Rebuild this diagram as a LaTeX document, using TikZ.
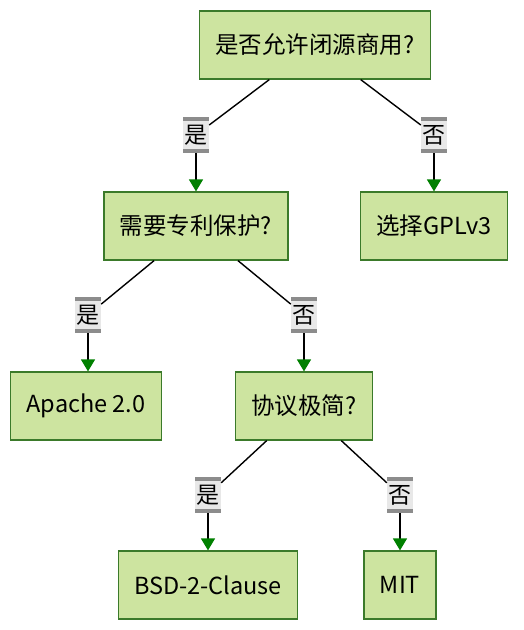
\documentclass[tikz,border=0pt]{standalone}
\usepackage{fontspec}
\setmainfont{Noto Sans CJK SC}
\usepackage{tikz}
\usetikzlibrary{arrows.meta}
\definecolor{leaf}{HTML}{CDE4A0}
\definecolor{leafedge}{HTML}{3B7A2A}
\definecolor{tagbg}{HTML}{E8E8E8}
\definecolor{tagbar}{HTML}{8C8C8C}
\definecolor{tipgreen}{HTML}{008000}

\tikzset{
  choice/.style={draw=leafedge, fill=leaf, line width=1.2pt, minimum height=68pt,
                 inner xsep=16pt, font=\fontsize{23.5}{26}\selectfont},
  tag/.style={fill=tagbg, minimum width=26pt, minimum height=36pt, inner sep=0pt,
              font=\fontsize{23}{26}\selectfont,
              path picture={
                \fill[tagbar] (path picture bounding box.north west)
                  rectangle ([yshift=-4pt]path picture bounding box.north east);
                \fill[tagbar] (path picture bounding box.south west)
                  rectangle ([yshift=4pt]path picture bounding box.south east);}},
  link/.style={draw=black, line width=1.4pt},
  pick/.style={link, -{Triangle[color=tipgreen, width=14pt, length=12pt]}}
}

\begin{document}
\begin{tikzpicture}[x=1pt, y=-1pt]
  \useasboundingbox (0,0) rectangle (524,630);

  % questions and answers
  \node[choice] (closed)  at (315,45)  {是否允许闭源商用?};
  \node[choice] (gpl)     at (434,226) {选择GPLv3};
  \node[choice] (patent)  at (196,226) {需要专利保护?};
  \node[choice] (apache)  at (86,406)  {Apache 2.0};
  \node[choice] (simple)  at (304,406) {协议极简?};
  \node[choice] (bsd)     at (208,585) {BSD-2-Clause};
  \node[choice] (mit)     at (400,585) {MIT};

  % yes / no tags
  \node[tag] (closedyes) at (196,135) {是};
  \node[tag] (closedno)  at (434,135) {否};
  \node[tag] (patentyes) at (88,315)  {是};
  \node[tag] (patentno)  at (304,315) {否};
  \node[tag] (simpleyes) at (208,495) {是};
  \node[tag] (simpleno)  at (400,495) {否};

  \draw[link] (closed) -- (closedyes);
  \draw[pick] (closedyes) -- (patent);
  \draw[link] (closed) -- (closedno);
  \draw[pick] (closedno) -- (gpl);
  \draw[link] (patent) -- (patentyes);
  \draw[pick] (patentyes) -- (apache.north -| patentyes);
  \draw[link] (patent) -- (patentno);
  \draw[pick] (patentno) -- (simple);
  \draw[link] (simple) -- (simpleyes);
  \draw[pick] (simpleyes) -- (bsd);
  \draw[link] (simple) -- (simpleno);
  \draw[pick] (simpleno) -- (mit);
\end{tikzpicture}
\end{document}
